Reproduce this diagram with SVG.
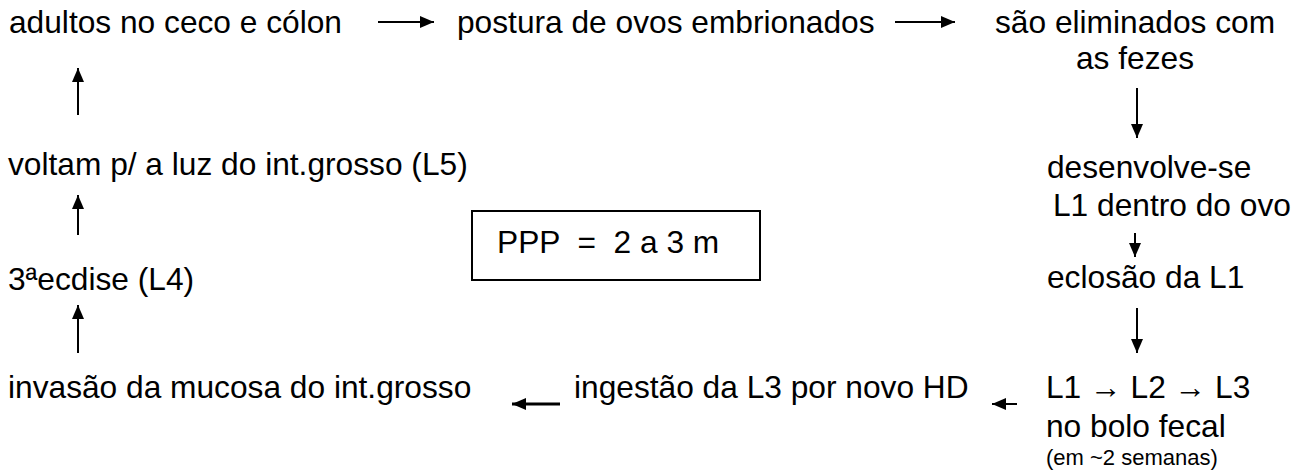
<svg xmlns="http://www.w3.org/2000/svg" width="1299" height="474" viewBox="0 0 1299 474">
<defs>
<marker id="ah" viewBox="0 0 14 12" refX="14" refY="6" markerWidth="14" markerHeight="12" markerUnits="userSpaceOnUse" orient="auto">
<path d="M0,0 L14,6 L0,12 z" fill="#000"/>
</marker>
<style>
text{font-family:"Liberation Sans",Arial,sans-serif;font-size:31.7px;fill:#000;white-space:pre}
.sm{font-size:22px}
.c line{stroke:#000;stroke-width:2;marker-end:url(#ah)}
</style>
</defs>
<rect width="1299" height="474" fill="#fff"/>
<g id="n1"><text x="9" y="33">adultos no ceco e cólon</text></g>
<g id="n2"><text x="457" y="33">postura de ovos embrionados</text></g>
<g id="n3"><text x="995" y="33">são eliminados com</text><text x="1076" y="69">as fezes</text></g>
<g id="n4"><text x="1047" y="178">desenvolve-se</text><text x="1053" y="216">L1 dentro do ovo</text></g>
<g id="n5"><text x="1047" y="288">eclosão da L1</text></g>
<g id="n6"><text x="1046" y="398">L1 → L2 → L3</text><text x="1046" y="437">no bolo fecal</text><text class="sm" x="1046" y="465">(em ~2 semanas)</text></g>
<g id="n7"><text x="574" y="398">ingestão da L3 por novo HD</text></g>
<g id="n8"><text x="8" y="398">invasão da mucosa do int.grosso</text></g>
<g id="n9"><text x="8" y="290">3ªecdise (L4)</text></g>
<g id="n10"><text x="8" y="175">voltam p/ a luz do int.grosso (L5)</text></g>
<g id="box"><rect x="472" y="211" width="288" height="69" fill="none" stroke="#000" stroke-width="2"/><text x="497" y="253">PPP  =  2 a 3 m</text></g>
<g class="c" id="connectors">
<line x1="378" y1="22" x2="434" y2="22"/>
<line x1="895" y1="22" x2="955" y2="22"/>
<line x1="1137" y1="88" x2="1137" y2="138"/>
<line x1="1135" y1="233" x2="1135" y2="257"/>
<line x1="1137" y1="308" x2="1137" y2="353"/>
<line x1="1017" y1="404" x2="992" y2="404"/>
<line x1="560" y1="404" x2="512" y2="404" style="stroke-width:3"/>
<line x1="78" y1="353" x2="78" y2="305"/>
<line x1="78" y1="235" x2="78" y2="195"/>
<line x1="78" y1="115" x2="78" y2="68"/>
</g>
</svg>
